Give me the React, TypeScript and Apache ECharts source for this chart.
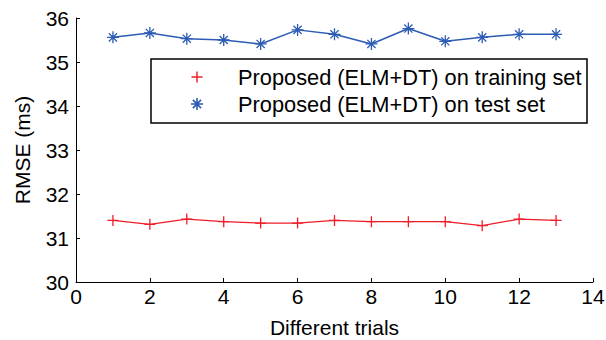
import React, { useEffect, useRef } from "react";
import * as echarts from "echarts";

const trials = [1, 2, 3, 4, 5, 6, 7, 8, 9, 10, 11, 12, 13];
const trainingRmse = [31.4, 31.31, 31.43, 31.37, 31.34, 31.34, 31.4, 31.37, 31.37, 31.37, 31.28, 31.43, 31.4];
const testRmse = [35.56, 35.66, 35.53, 35.5, 35.41, 35.73, 35.63, 35.41, 35.76, 35.47, 35.56, 35.63, 35.63];
const seriesNames = ["Proposed (ELM+DT) on training set", "Proposed (ELM+DT) on test set"];
const xAxisTitle = "Different trials";
const yAxisTitle = "RMSE (ms)";

const PLUS_D = "M5,0L5,10M0,5L10,5";
const STAR_D = "M5,0L5,10M0,5L10,5M1.6,1.6L8.4,8.4M8.4,1.6L1.6,8.4";
const PLUS = "path://" + PLUS_D;
const STAR = "path://" + STAR_D;
const RED = "#f01c28";
const BLUE = "#2c5cb4";
const FONT = "Arial, 'Liberation Sans', sans-serif";

echarts.graphic.registerShape("plusMark", echarts.graphic.extendPath(PLUS_D, {}));
echarts.graphic.registerShape("starMark", echarts.graphic.extendPath(STAR_D, {}));

export default function App() {
  const ref = useRef<HTMLDivElement>(null);
  useEffect(() => {
    if (!ref.current) return;
    const chart = echarts.init(ref.current, null, { renderer: "svg" });
    const axisCommon = {
      axisLine: { show: true, lineStyle: { color: "#000", width: 1 } },
      axisTick: { show: true, inside: true, length: 4, lineStyle: { color: "#000" } },
      splitLine: { show: false },
    };
    const legendX = 151;
    const legendY = 59;
    const rowY = [77, 104];
    const markX = 197;
    const textX = 238;
    chart.setOption({
      animation: false,
      backgroundColor: "#fff",
      textStyle: { fontFamily: FONT },
      grid: { left: 76, right: 13, top: 18, bottom: 58, outerBoundsMode: "none", containLabel: false },
      xAxis: {
        type: "value",
        min: 0,
        max: 14,
        interval: 2,
        name: xAxisTitle,
        nameLocation: "middle",
        nameGap: 35,
        nameTextStyle: { color: "#000", fontSize: 21, fontFamily: FONT, lineHeight: 21 },
        ...axisCommon,
        axisLabel: { color: "#000", fontSize: 21, fontFamily: FONT, margin: 4 },
      },
      yAxis: {
        type: "value",
        min: 30,
        max: 36,
        interval: 1,
        name: yAxisTitle,
        nameLocation: "middle",
        nameGap: 43,
        nameTextStyle: { color: "#000", fontSize: 21, fontFamily: FONT },
        ...axisCommon,
        axisLabel: { color: "#000", fontSize: 21, fontFamily: FONT, margin: 7 },
      },
      graphic: [
        {
          type: "rect",
          z: 100,
          shape: { x: legendX, y: legendY, width: 436, height: 64 },
          style: { fill: "#fff", stroke: "#000", lineWidth: 1.5 },
        },
        {
          type: "plusMark",
          z: 101,
          x: markX - 5.5,
          y: rowY[0] - 5.5,
          scaleX: 1.1,
          scaleY: 1.1,
          style: { fill: "none", stroke: RED, lineWidth: 1.3 },
        },
        {
          type: "starMark",
          z: 101,
          x: markX - 6,
          y: rowY[1] - 6,
          scaleX: 1.2,
          scaleY: 1.2,
          style: { fill: "none", stroke: BLUE, lineWidth: 1.3 },
        },
        {
          type: "text",
          z: 101,
          x: textX,
          y: rowY[0],
          style: { text: seriesNames[0], fill: "#000", fontSize: 21.8, fontFamily: FONT, verticalAlign: "middle", align: "left" },
        },
        {
          type: "text",
          z: 101,
          x: textX,
          y: rowY[1],
          style: { text: seriesNames[1], fill: "#000", fontSize: 21.8, fontFamily: FONT, verticalAlign: "middle", align: "left" },
        },
      ],
      series: [
        {
          name: seriesNames[0],
          type: "line",
          data: trials.map((t, i) => [t, trainingRmse[i]]),
          symbol: PLUS,
          symbolSize: 11,
          showAllSymbol: true,
          lineStyle: { color: RED, width: 1.3 },
          itemStyle: { color: RED, borderColor: RED, borderWidth: 1.3 },
        },
        {
          name: seriesNames[1],
          type: "line",
          data: trials.map((t, i) => [t, testRmse[i]]),
          symbol: STAR,
          symbolSize: 12,
          showAllSymbol: true,
          lineStyle: { color: BLUE, width: 1.5 },
          itemStyle: { color: BLUE, borderColor: BLUE, borderWidth: 1.3 },
        },
      ],
    });
    return () => chart.dispose();
  }, []);
  return <div ref={ref} style={{ width: 606, height: 340, position: "absolute", left: 0, top: 0 }} />;
}
